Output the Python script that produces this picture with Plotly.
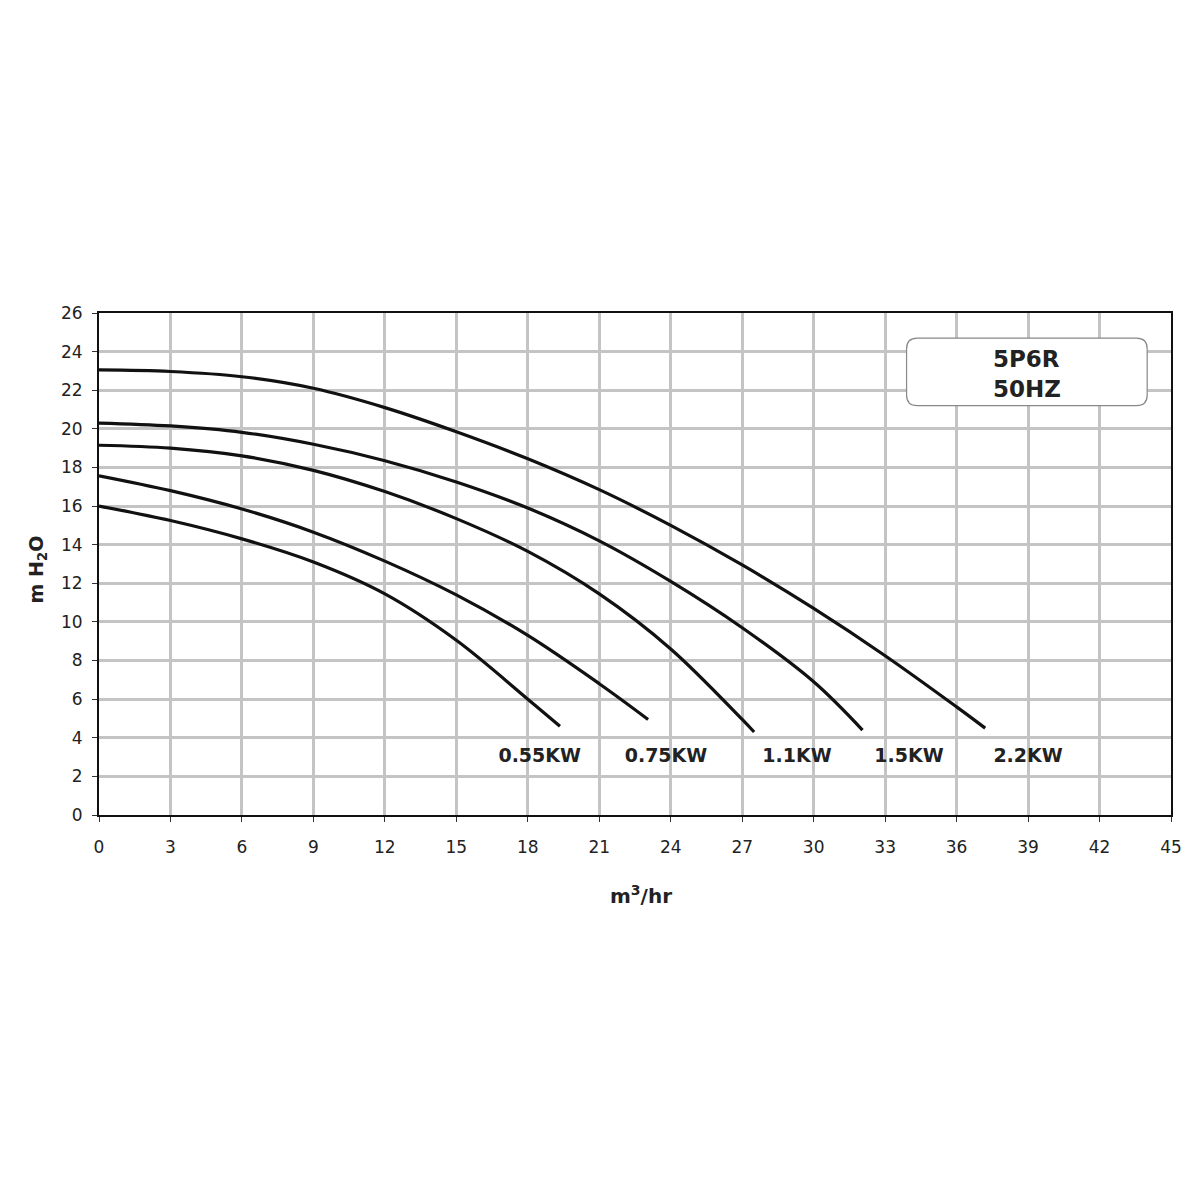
import plotly.graph_objects as go

# pump curves for the 5P6R at 50HZ, head (m H2O) against flow (m3/hr)
motor_labels = ["0.55KW", "0.75KW", "1.1KW", "1.5KW", "2.2KW"]
label_flow = [18.5, 23.8, 29.3, 34.0, 39.0]
label_head = [3.0, 3.0, 3.0, 3.0, 3.0]

flow_055 = [0, 3, 6, 9, 12, 15, 18, 19.35]
head_055 = [16.0, 15.25, 14.3, 13.1, 11.45, 9.05, 6.0, 4.6]

flow_075 = [0, 3, 6, 9, 12, 15, 18, 21, 23.05]
head_075 = [17.57, 16.8, 15.85, 14.65, 13.15, 11.4, 9.3, 6.8, 4.95]

flow_110 = [0, 3, 6, 9, 12, 15, 18, 21, 24, 27, 27.5]
head_110 = [19.15, 19.0, 18.6, 17.85, 16.75, 15.35, 13.65, 11.45, 8.6, 4.95, 4.3]

flow_150 = [0, 3, 6, 9, 12, 15, 18, 21, 24, 27, 30, 32.05]
head_150 = [20.3, 20.15, 19.82, 19.2, 18.35, 17.25, 15.9, 14.2, 12.1, 9.7, 6.9, 4.4]

flow_220 = [0, 3, 6, 9, 12, 15, 18, 21, 24, 27, 30, 33, 36, 37.2]
head_220 = [23.05, 22.97, 22.7, 22.1, 21.1, 19.85, 18.45, 16.85, 15.0, 12.95, 10.7, 8.25, 5.6, 4.5]

x_ticks = list(range(0, 46, 3))
y_ticks = list(range(0, 27, 2))

curves = [
    (flow_055, head_055),
    (flow_075, head_075),
    (flow_110, head_110),
    (flow_150, head_150),
    (flow_220, head_220),
]

fig = go.Figure()
for (fx, hy), name in zip(curves, motor_labels):
    fig.add_trace(
        go.Scatter(
            x=fx,
            y=hy,
            mode="lines",
            name=name,
            line=dict(color="#111111", width=3.2, shape="spline", smoothing=1.0),
            showlegend=False,
        )
    )

# the kW labels under the curve ends
fig.add_trace(
    go.Scatter(
        x=label_flow,
        y=label_head,
        mode="text",
        text=["<b>{}</b>".format(t) for t in motor_labels],
        textfont=dict(family="DejaVu Sans", size=19, color="#222222"),
        showlegend=False,
    )
)

# rounded box for the model name (data coords)
bx0, bx1, by0, by1 = 33.9, 44.0, 21.2, 24.7
rx, ry = 0.45, 0.55
box_path = (
    f"M {bx0 + rx},{by0} L {bx1 - rx},{by0} Q {bx1},{by0} {bx1},{by0 + ry} "
    f"L {bx1},{by1 - ry} Q {bx1},{by1} {bx1 - rx},{by1} "
    f"L {bx0 + rx},{by1} Q {bx0},{by1} {bx0},{by1 - ry} "
    f"L {bx0},{by0 + ry} Q {bx0},{by0} {bx0 + rx},{by0} Z"
)

fig.update_layout(
    width=1200,
    height=1200,
    autosize=False,
    margin=dict(l=91, r=37, t=305, b=393),
    plot_bgcolor="white",
    paper_bgcolor="white",
    font=dict(family="DejaVu Sans", size=17, color="#222222"),
    shapes=[
        dict(
            type="path",
            path=box_path,
            xref="x",
            yref="y",
            line=dict(color="#888888", width=1.2),
            fillcolor="white",
            layer="above",
        )
    ],
    annotations=[
        dict(
            x=(bx0 + bx1) / 2,
            y=23.6,
            xref="x",
            yref="y",
            text="<b>5P6R</b>",
            showarrow=False,
            font=dict(family="DejaVu Sans", size=23, color="#222222"),
        ),
        dict(
            x=(bx0 + bx1) / 2,
            y=22.05,
            xref="x",
            yref="y",
            text="<b>50HZ</b>",
            showarrow=False,
            font=dict(family="DejaVu Sans", size=23, color="#222222"),
        ),
        dict(
            x=-0.071,
            y=0.49,
            xref="paper",
            yref="paper",
            text="<b>m H<sub>2</sub>O</b>",
            textangle=-90,
            showarrow=False,
            font=dict(family="DejaVu Sans", size=19, color="#222222"),
        ),
        dict(
            x=(640 - 98) / 1072,
            y=-0.19,
            xref="paper",
            yref="paper",
            text="<b>m<sup>3</sup>/hr</b>",
            showarrow=False,
            font=dict(family="DejaVu Sans", size=20, color="#222222"),
        ),
    ],
)

fig.update_xaxes(
    range=[0, 45],
    tickvals=x_ticks,
    showgrid=True,
    gridcolor="#c4c4c4",
    gridwidth=3,
    zeroline=False,
    showline=True,
    linecolor="#111111",
    linewidth=2,
    mirror=True,
    ticks="outside",
    ticklen=5,
    tickcolor="#333333",
    ticklabelstandoff=11,
)
fig.update_yaxes(
    range=[0, 26],
    tickvals=y_ticks,
    showgrid=True,
    gridcolor="#c4c4c4",
    gridwidth=3,
    zeroline=False,
    showline=True,
    linecolor="#111111",
    linewidth=2,
    mirror=True,
    ticks="outside",
    ticklen=5,
    tickcolor="#333333",
    ticklabelstandoff=6,
)

fig.write_html("out.html")
